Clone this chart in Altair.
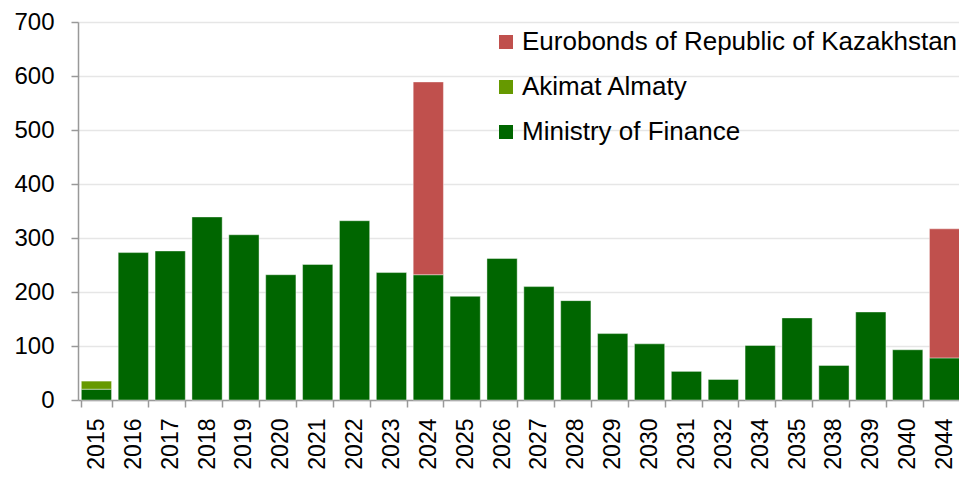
import altair as alt
import pandas as pd

years = ["2015", "2016", "2017", "2018", "2019", "2020", "2021", "2022", "2023", "2024",
         "2025", "2026", "2027", "2028", "2029", "2030", "2031", "2032", "2034", "2035",
         "2038", "2039", "2040", "2044"]
ministry = [20, 273, 276, 339, 306, 232, 251, 332, 236, 232,
            192, 262, 210, 184, 123, 104, 53, 38, 101, 152,
            64, 163, 93, 78]
akimat = [15, 0, 0, 0, 0, 0, 0, 0, 0, 0,
          0, 0, 0, 0, 0, 0, 0, 0, 0, 0,
          0, 0, 0, 0]
eurobonds = [0, 0, 0, 0, 0, 0, 0, 0, 0, 357,
             0, 0, 0, 0, 0, 0, 0, 0, 0, 0,
             0, 0, 0, 239]

series_names = ["Eurobonds of Republic of Kazakhstan", "Akimat Almaty", "Ministry of Finance"]
series_colors = ["#C0504D", "#669900", "#006600"]

rows = []
for i, y in enumerate(years):
    for idx, (name, vals) in enumerate([("Ministry of Finance", ministry),
                                         ("Akimat Almaty", akimat),
                                         ("Eurobonds of Republic of Kazakhstan", eurobonds)]):
        if vals[i] > 0:
            rows.append({"year": y, "series": name, "value": vals[i], "stack_idx": idx})
df = pd.DataFrame(rows)

chart = alt.Chart(df).mark_bar(stroke="#ffffff", strokeWidth=0.6, strokeOpacity=0.7).encode(
    x=alt.X("year:N", sort=years,
            scale=alt.Scale(paddingInner=0.18, paddingOuter=0.09),
            axis=alt.Axis(title=None, labelAngle=-90, tickBand="extent", grid=False,
                          labelFontSize=23, labelPadding=11, tickSize=7,
                          domainColor="#999999", tickColor="#999999", domainWidth=1.5,
                          tickWidth=1.5, labelColor="#000000")),
    y=alt.Y("value:Q", stack="zero",
            scale=alt.Scale(domain=[0, 700], nice=False),
            axis=alt.Axis(title=None, values=[0, 100, 200, 300, 400, 500, 600, 700],
                          labelFontSize=24, labelPadding=17, tickSize=7,
                          domainColor="#999999", tickColor="#999999", domainWidth=1.5,
                          tickWidth=1.5, gridColor="#e6e6e6", gridWidth=1.5,
                          labelColor="#000000")),
    color=alt.Color("series:N",
                    scale=alt.Scale(domain=series_names, range=series_colors),
                    legend=alt.Legend(title=None, orient="none", legendX=415, legendY=7,
                                      direction="vertical", symbolType="square",
                                      symbolSize=196, symbolStrokeWidth=0,
                                      labelFontSize=26, labelOffset=3, rowPadding=19,
                                      labelColor="#000000", padding=0, labelLimit=600)),
    order=alt.Order("stack_idx:Q"),
).properties(
    width=885, height=378,
    autosize=alt.AutoSizeParams(type="none"),
    padding={"left": 70, "top": 14, "right": -4, "bottom": 72},
).configure(
    font="Liberation Sans"
).configure_view(stroke=None)

chart.save("out.html", embed_options={"renderer": "svg", "actions": False})
